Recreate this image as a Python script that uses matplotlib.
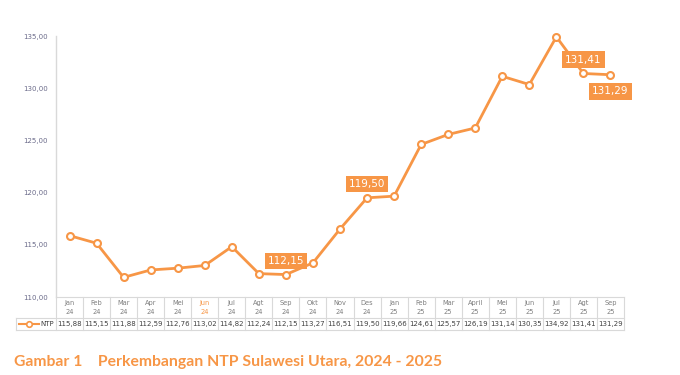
import matplotlib.pyplot as plt
from matplotlib.transforms import blended_transform_factory

months = ["Jan", "Feb", "Mar", "Apr", "Mei", "Jun", "Jul", "Agt", "Sep", "Okt", "Nov", "Des",
          "Jan", "Feb", "Mar", "April", "Mei", "Jun", "Jul", "Agt", "Sep"]
years = ["24"] * 12 + ["25"] * 9
ntp = [115.88, 115.15, 111.88, 112.59, 112.76, 113.02, 114.82, 112.24, 112.15, 113.27, 116.51,
       119.50, 119.66, 124.61, 125.57, 126.19, 131.14, 130.35, 134.92, 131.41, 131.29]
yticks = [110, 115, 120, 125, 130, 135]
# callouts: index, offset in points (dx, dy)
callouts = [(8, 0, 10), (11, 0, 10), (19, 0, 10), (20, 0, -12)]

orange = "#F79646"
grid_c = "#d9d9d9"
W, H = 680, 375


def fmt(v):
    return f"{v:.2f}".replace(".", ",")


fig = plt.figure(figsize=(6.8, 3.75), dpi=100)
ax = fig.add_axes([56 / W, 1 - 297 / H, (624 - 56) / W, (297 - 36) / H])
x = list(range(len(ntp)))
ax.plot(x, ntp, color=orange, lw=2, marker="o", ms=5, mfc="white", mec=orange, mew=1.5,
        zorder=3, clip_on=False)
ax.set_xlim(-0.5, len(ntp) - 0.5)
ax.set_ylim(110, 135)
ax.set_yticks(yticks)
ax.set_yticklabels([fmt(v) for v in yticks], fontsize=5, color="#6b6b8a")
ax.tick_params(axis="y", length=0, pad=6)
ax.set_xticks([])
for s in ["top", "right", "bottom"]:
    ax.spines[s].set_visible(False)
ax.spines["left"].set_color(grid_c)
ax.spines["left"].set_linewidth(1)

for i, dx, dy in callouts:
    ax.annotate(fmt(ntp[i]), (i, ntp[i]), xytext=(dx, dy), textcoords="offset points",
                ha="center", va="center", fontsize=7.5, color="white",
                bbox=dict(boxstyle="square,pad=0.3", fc=orange, ec="none"), zorder=4)

# data table below the plot
tr = blended_transform_factory(ax.transData, fig.transFigure)
fy = lambda p: 1 - p / H
x0 = -0.5 - (56 - 16) / 27.1
xr = len(ntp) - 0.5
for yy in [297, 318, 330]:
    xs = -0.5 if yy == 297 else x0
    ax.plot([xs, xr], [fy(yy), fy(yy)], transform=tr, color=grid_c, lw=0.8, clip_on=False)
for k in range(len(ntp) + 1):
    ax.plot([k - 0.5, k - 0.5], [fy(297), fy(330)], transform=tr, color=grid_c, lw=0.8,
            clip_on=False)
ax.plot([x0, x0], [fy(318), fy(330)], transform=tr, color=grid_c, lw=0.8, clip_on=False)

for i in x:
    mc = orange if i == 5 else "#7f7f7f"
    ax.text(i, fy(307.5), months[i] + "\n" + years[i], transform=tr, ha="center", va="center",
            fontsize=4.8, color=mc, linespacing=1.5)
    ax.text(i, fy(324), fmt(ntp[i]), transform=tr, ha="center", va="center",
            fontsize=5, color="#404040")

# legend key in table
lx = [x0 + 0.12, x0 + 0.85]
ax.plot(lx, [fy(324)] * 2, transform=tr, color=orange, lw=1.5, clip_on=False)
ax.plot([(lx[0] + lx[1]) / 2], [fy(324)], transform=tr, marker="o", ms=4, mfc="white",
        mec=orange, mew=1.2, clip_on=False)
ax.text(x0 + 0.9, fy(324), "NTP", transform=tr, ha="left", va="center", fontsize=5,
        color="#404040")

fig.text(14 / W, fy(362), "Gambar 1    Perkembangan NTP Sulawesi Utara, 2024 - 2025",
         fontsize=11.3, fontweight="bold", color=orange, family=["Lato", "DejaVu Sans"],
         ha="left", va="center")

fig.savefig("out.png", dpi=100)
